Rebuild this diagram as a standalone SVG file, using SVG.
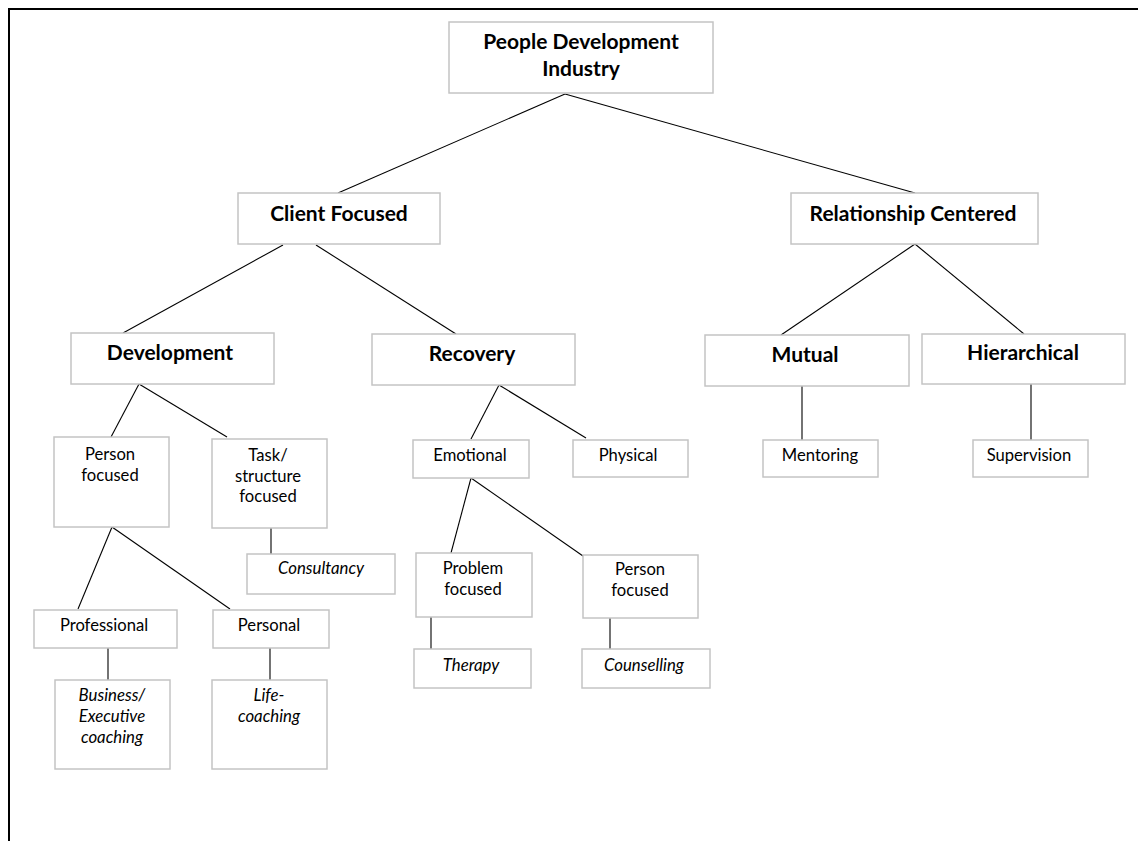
<svg xmlns="http://www.w3.org/2000/svg" width="1138" height="841" viewBox="0 0 1138 841">
  <style>
    .box { fill: #ffffff; stroke: #c4c4c4; stroke-width: 1.5; }
    .link { stroke: #000000; stroke-width: 1.1; fill: none; }
    text { font-family: Lato, "Liberation Sans", sans-serif; fill: #000000; text-anchor: middle; }
    .b { font-weight: bold; font-size: 21px; }
    .r { font-size: 16.6px; }
    .i { font-size: 16.8px; font-style: italic; }
  </style>
  <rect width="1138" height="841" fill="#ffffff"/>
  <!-- page frame -->
  <path d="M9,841 V9 H1138" fill="none" stroke="#000000" stroke-width="2"/>

  <g id="connectors">
    <line class="link" x1="565" y1="94" x2="338" y2="193"/>
    <line class="link" x1="565" y1="94" x2="915" y2="193"/>
    <line class="link" x1="283" y1="245" x2="123" y2="333"/>
    <line class="link" x1="316" y1="245" x2="456" y2="334"/>
    <line class="link" x1="915" y1="244" x2="781" y2="335"/>
    <line class="link" x1="915" y1="244" x2="1024" y2="334"/>
    <line class="link" x1="139" y1="384" x2="111" y2="437"/>
    <line class="link" x1="139" y1="384" x2="227" y2="437"/>
    <line class="link" x1="499" y1="385" x2="471" y2="439"/>
    <line class="link" x1="499" y1="385" x2="586" y2="438"/>
    <line class="link" x1="802" y1="386" x2="802" y2="440"/>
    <line class="link" x1="1031" y1="384" x2="1031" y2="440"/>
    <line class="link" x1="271" y1="528" x2="271" y2="554"/>
    <line class="link" x1="112" y1="527" x2="78" y2="609"/>
    <line class="link" x1="112" y1="527" x2="230" y2="609"/>
    <line class="link" x1="471" y1="478" x2="451" y2="553"/>
    <line class="link" x1="471" y1="478" x2="583" y2="556"/>
    <line class="link" x1="108" y1="648" x2="108" y2="680"/>
    <line class="link" x1="270" y1="648" x2="270" y2="680"/>
    <line class="link" x1="431" y1="617" x2="431" y2="649"/>
    <line class="link" x1="610" y1="618" x2="610" y2="649"/>
  </g>

  <g id="people-development-industry">
    <rect class="box" x="449" y="22" width="264" height="71"/>
    <text class="b" x="581" y="49">People Development</text>
    <text class="b" x="581" y="76">Industry</text>
  </g>
  <g id="client-focused">
    <rect class="box" x="238" y="193" width="202" height="51"/>
    <text class="b" x="339" y="221">Client Focused</text>
  </g>
  <g id="relationship-centered">
    <rect class="box" x="791" y="193" width="247" height="51"/>
    <text class="b" x="913" y="221">Relationship Centered</text>
  </g>
  <g id="development">
    <rect class="box" x="71" y="333" width="203" height="51"/>
    <text class="b" x="170" y="360">Development</text>
  </g>
  <g id="recovery">
    <rect class="box" x="372" y="334" width="203" height="51"/>
    <text class="b" x="472" y="361">Recovery</text>
  </g>
  <g id="mutual">
    <rect class="box" x="705" y="335" width="204" height="51"/>
    <text class="b" x="805" y="362">Mutual</text>
  </g>
  <g id="hierarchical">
    <rect class="box" x="922" y="334" width="203" height="50"/>
    <text class="b" x="1023" y="360">Hierarchical</text>
  </g>
  <g id="person-focused-dev">
    <rect class="box" x="54" y="437" width="115" height="90"/>
    <text class="r" x="110" y="460">Person</text>
    <text class="r" x="110" y="481">focused</text>
  </g>
  <g id="task-structure-focused">
    <rect class="box" x="212" y="439" width="115" height="89"/>
    <text class="r" x="268" y="461">Task/</text>
    <text class="r" x="268" y="482">structure</text>
    <text class="r" x="268" y="502">focused</text>
  </g>
  <g id="emotional">
    <rect class="box" x="413" y="440" width="116" height="38"/>
    <text class="r" x="470" y="461">Emotional</text>
  </g>
  <g id="physical">
    <rect class="box" x="573" y="440" width="115" height="37"/>
    <text class="r" x="628" y="461">Physical</text>
  </g>
  <g id="mentoring">
    <rect class="box" x="763" y="440" width="115" height="37"/>
    <text class="r" x="820" y="461">Mentoring</text>
  </g>
  <g id="supervision">
    <rect class="box" x="973" y="440" width="115" height="37"/>
    <text class="r" x="1029" y="461">Supervision</text>
  </g>
  <g id="consultancy">
    <rect class="box" x="247" y="554" width="148" height="40"/>
    <text class="i" x="321" y="574">Consultancy</text>
  </g>
  <g id="problem-focused">
    <rect class="box" x="416" y="553" width="116" height="64"/>
    <text class="r" x="473" y="574">Problem</text>
    <text class="r" x="473" y="595">focused</text>
  </g>
  <g id="person-focused-rec">
    <rect class="box" x="583" y="555" width="115" height="63"/>
    <text class="r" x="640" y="575">Person</text>
    <text class="r" x="640" y="596">focused</text>
  </g>
  <g id="professional">
    <rect class="box" x="34" y="610" width="143" height="38"/>
    <text class="r" x="104" y="631">Professional</text>
  </g>
  <g id="personal">
    <rect class="box" x="213" y="610" width="116" height="38"/>
    <text class="r" x="269" y="631">Personal</text>
  </g>
  <g id="therapy">
    <rect class="box" x="414" y="649" width="117" height="39"/>
    <text class="i" x="471" y="671">Therapy</text>
  </g>
  <g id="counselling">
    <rect class="box" x="582" y="649" width="128" height="39"/>
    <text class="i" x="644" y="671">Counselling</text>
  </g>
  <g id="business-executive-coaching">
    <rect class="box" x="55" y="680" width="115" height="89"/>
    <text class="i" x="112" y="701">Business/</text>
    <text class="i" x="112" y="722">Executive</text>
    <text class="i" x="112" y="743">coaching</text>
  </g>
  <g id="life-coaching">
    <rect class="box" x="212" y="680" width="115" height="89"/>
    <text class="i" x="269" y="701">Life-</text>
    <text class="i" x="269" y="722">coaching</text>
  </g>
</svg>
